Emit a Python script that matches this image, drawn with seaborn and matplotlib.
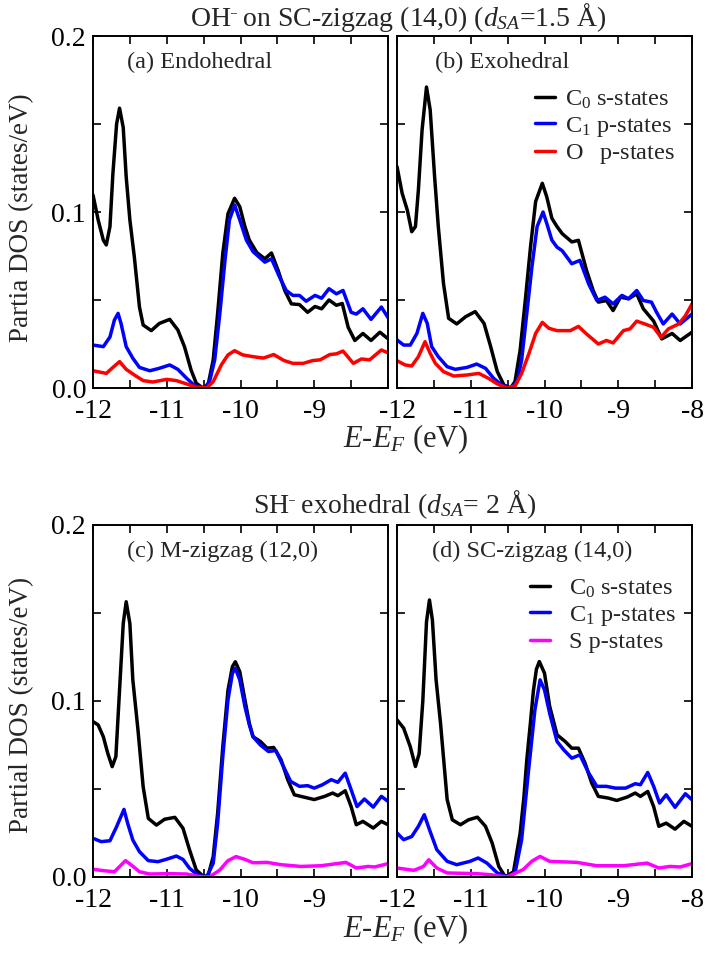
import numpy as np
import pandas as pd
import matplotlib
matplotlib.use("Agg")
import matplotlib.pyplot as plt
import seaborn as sns

# ---------------- data ----------------
# Panel (a) OH- endohedral
a_c0_x = [-12.0, -11.93, -11.86, -11.82, -11.77, -11.73, -11.68, -11.64, -11.59, -11.55, -11.50, -11.44, -11.37, -11.32, -11.21, -11.10, -10.96, -10.85, -10.76, -10.67, -10.60, -10.51, -10.44, -10.37, -10.31, -10.24, -10.17, -10.08, -10.01, -9.94, -9.88, -9.78, -9.67, -9.58, -9.49, -9.40, -9.31, -9.2, -9.09, -8.99, -8.9, -8.8, -8.70, -8.62, -8.54, -8.45, -8.34, -8.23, -8.11, -8.0]
a_c0_y = [0.1097, 0.0955, 0.084, 0.0813, 0.0917, 0.122, 0.150, 0.159, 0.148, 0.120, 0.0955, 0.0746, 0.046, 0.0358, 0.0326, 0.0367, 0.039, 0.033, 0.0235, 0.0102, 0.0027, 0.0, 0.0017, 0.016, 0.0424, 0.0765, 0.099, 0.1078, 0.103, 0.0917, 0.084, 0.077, 0.0734, 0.0767, 0.0668, 0.0554, 0.0478, 0.0474, 0.043, 0.0463, 0.045, 0.050, 0.047, 0.048, 0.0345, 0.027, 0.031, 0.027, 0.0317, 0.028]
a_c1_x = [-12.0, -11.86, -11.77, -11.71, -11.66, -11.62, -11.55, -11.46, -11.37, -11.23, -11.10, -10.96, -10.85, -10.73, -10.62, -10.49, -10.42, -10.35, -10.28, -10.21, -10.15, -10.08, -10.01, -9.92, -9.83, -9.67, -9.58, -9.47, -9.38, -9.29, -9.2, -9.11, -8.99, -8.9, -8.8, -8.70, -8.61, -8.5, -8.43, -8.34, -8.23, -8.09, -8.0]
a_c1_y = [0.0244, 0.0235, 0.029, 0.0386, 0.0424, 0.0367, 0.0235, 0.0169, 0.0117, 0.0098, 0.0112, 0.0131, 0.0106, 0.0055, 0.0013, 0.0, 0.0036, 0.016, 0.0424, 0.0727, 0.0955, 0.104, 0.0955, 0.084, 0.0775, 0.0715, 0.0734, 0.063, 0.0554, 0.0526, 0.0526, 0.0493, 0.0526, 0.051, 0.0564, 0.0535, 0.0554, 0.043, 0.042, 0.045, 0.039, 0.046, 0.040]
a_o_x = [-12.0, -11.82, -11.73, -11.64, -11.55, -11.44, -11.32, -11.19, -11.0, -10.87, -10.73, -10.6, -10.46, -10.37, -10.26, -10.17, -10.08, -9.97, -9.83, -9.69, -9.55, -9.41, -9.29, -9.15, -9.02, -8.92, -8.79, -8.70, -8.61, -8.47, -8.36, -8.25, -8.09, -8.0]
a_o_y = [0.0098, 0.0083, 0.0117, 0.015, 0.0106, 0.0074, 0.0042, 0.0034, 0.0049, 0.0042, 0.0023, 0.0004, 0.0, 0.0036, 0.0131, 0.0188, 0.0212, 0.0188, 0.0178, 0.017, 0.019, 0.0156, 0.014, 0.014, 0.0156, 0.016, 0.019, 0.0194, 0.021, 0.014, 0.0165, 0.016, 0.0216, 0.020]

# Panel (b) OH- exohedral
b_c0_x = [-12.0, -11.93, -11.86, -11.80, -11.75, -11.71, -11.66, -11.60, -11.55, -11.49, -11.44, -11.37, -11.30, -11.19, -11.07, -10.94, -10.82, -10.73, -10.64, -10.55, -10.46, -10.40, -10.33, -10.26, -10.19, -10.12, -10.03, -9.97, -9.90, -9.83, -9.76, -9.63, -9.54, -9.43, -9.34, -9.27, -9.16, -9.07, -8.97, -8.86, -8.75, -8.66, -8.52, -8.41, -8.27, -8.16, -8.0]
b_c0_y = [0.1258, 0.1106, 0.101, 0.0888, 0.0917, 0.1125, 0.1466, 0.171, 0.158, 0.120, 0.0917, 0.0595, 0.0396, 0.0364, 0.0405, 0.0434, 0.0367, 0.0235, 0.0093, 0.0017, 0.0, 0.0036, 0.0216, 0.050, 0.080, 0.106, 0.1163, 0.1087, 0.0964, 0.0917, 0.0877, 0.083, 0.0839, 0.0668, 0.0554, 0.0488, 0.0497, 0.044, 0.0516, 0.0507, 0.0535, 0.045, 0.038, 0.0279, 0.031, 0.027, 0.0317]
b_c1_x = [-12.0, -11.91, -11.82, -11.73, -11.65, -11.59, -11.53, -11.44, -11.32, -11.21, -11.05, -10.92, -10.80, -10.69, -10.58, -10.46, -10.37, -10.31, -10.24, -10.17, -10.10, -10.02, -9.97, -9.90, -9.83, -9.76, -9.63, -9.52, -9.40, -9.29, -9.18, -9.07, -8.95, -8.86, -8.75, -8.66, -8.55, -8.48, -8.39, -8.27, -8.16, -8.0]
b_c1_y = [0.0273, 0.0244, 0.0244, 0.031, 0.0424, 0.0367, 0.0235, 0.0178, 0.0121, 0.0106, 0.0117, 0.0136, 0.0112, 0.0055, 0.0017, 0.0, 0.0036, 0.0159, 0.0424, 0.069, 0.0917, 0.100, 0.0936, 0.084, 0.080, 0.078, 0.0706, 0.0725, 0.059, 0.0497, 0.0516, 0.0478, 0.0526, 0.0507, 0.0554, 0.0497, 0.0488, 0.043, 0.0364, 0.042, 0.0364, 0.042]
b_o_x = [-12.0, -11.89, -11.80, -11.71, -11.62, -11.55, -11.48, -11.37, -11.23, -11.05, -10.89, -10.76, -10.64, -10.51, -10.40, -10.31, -10.21, -10.12, -10.03, -9.94, -9.83, -9.65, -9.54, -9.43, -9.27, -9.16, -9.07, -8.93, -8.84, -8.75, -8.64, -8.52, -8.42, -8.32, -8.18, -8.09, -8.0]
b_o_y = [0.0155, 0.0131, 0.0125, 0.0178, 0.0263, 0.0197, 0.014, 0.0093, 0.0068, 0.0074, 0.0083, 0.0055, 0.0023, 0.0, 0.0011, 0.0083, 0.0197, 0.031, 0.0373, 0.0339, 0.0326, 0.0326, 0.035, 0.0307, 0.025, 0.027, 0.0256, 0.0326, 0.0336, 0.038, 0.0364, 0.0345, 0.0288, 0.0336, 0.0364, 0.041, 0.0478]

# Panel (c) SH- on M-zigzag (12,0)
c_c0_x = [-12.0, -11.93, -11.86, -11.80, -11.74, -11.69, -11.65, -11.59, -11.55, -11.50, -11.46, -11.39, -11.32, -11.25, -11.14, -11.03, -10.89, -10.78, -10.69, -10.60, -10.51, -10.44, -10.37, -10.31, -10.24, -10.17, -10.11, -10.07, -10.01, -9.94, -9.88, -9.83, -9.73, -9.64, -9.55, -9.45, -9.36, -9.27, -9.14, -9.0, -8.86, -8.75, -8.68, -8.58, -8.5, -8.43, -8.34, -8.2, -8.09, -8.0]
c_c0_y = [0.0883, 0.0864, 0.0797, 0.0703, 0.0627, 0.0684, 0.0987, 0.144, 0.1564, 0.144, 0.112, 0.0835, 0.0513, 0.0333, 0.0295, 0.0328, 0.0339, 0.0277, 0.0153, 0.004, 0.0006, 0.0006, 0.0116, 0.0362, 0.074, 0.106, 0.1195, 0.1223, 0.1167, 0.1006, 0.0873, 0.0797, 0.077, 0.0732, 0.0736, 0.0666, 0.0553, 0.0467, 0.0454, 0.044, 0.0458, 0.0477, 0.0462, 0.049, 0.040, 0.0297, 0.0316, 0.0278, 0.0316, 0.0297]
c_c1_x = [-12.0, -11.89, -11.77, -11.68, -11.58, -11.53, -11.46, -11.37, -11.25, -11.12, -11.01, -10.87, -10.78, -10.69, -10.58, -10.46, -10.37, -10.31, -10.24, -10.17, -10.11, -10.07, -10.01, -9.94, -9.88, -9.83, -9.73, -9.62, -9.52, -9.43, -9.32, -9.20, -9.09, -9.0, -8.89, -8.77, -8.68, -8.58, -8.5, -8.42, -8.32, -8.2, -8.09, -8.0]
c_c1_y = [0.022, 0.0201, 0.0206, 0.0286, 0.0384, 0.0305, 0.021, 0.0144, 0.0093, 0.0087, 0.010, 0.0119, 0.010, 0.0049, 0.0011, 0.0, 0.0078, 0.0305, 0.0684, 0.1006, 0.1157, 0.1186, 0.112, 0.0968, 0.0864, 0.0797, 0.075, 0.0713, 0.0719, 0.0638, 0.0543, 0.0515, 0.0519, 0.0505, 0.0524, 0.0553, 0.0538, 0.059, 0.0496, 0.040, 0.0443, 0.0397, 0.0458, 0.043]
c_s_x = [-12.0, -11.86, -11.71, -11.64, -11.56, -11.48, -11.37, -11.23, -10.96, -10.73, -10.55, -10.42, -10.28, -10.17, -10.06, -9.94, -9.83, -9.64, -9.45, -9.18, -8.91, -8.73, -8.57, -8.43, -8.27, -8.18, -8.0]
c_s_y = [0.0044, 0.0036, 0.003, 0.0059, 0.0093, 0.0068, 0.003, 0.0017, 0.0019, 0.0017, 0.0002, 0.0, 0.004, 0.0093, 0.0116, 0.010, 0.0081, 0.0083, 0.007, 0.006, 0.0064, 0.0074, 0.0083, 0.0051, 0.006, 0.0057, 0.0076]

# Panel (d) SH- on SC-zigzag (14,0)
d_c0_x = [-12.0, -11.91, -11.82, -11.75, -11.70, -11.65, -11.60, -11.56, -11.52, -11.47, -11.41, -11.32, -11.25, -11.14, -11.03, -10.91, -10.8, -10.71, -10.62, -10.53, -10.42, -10.33, -10.28, -10.24, -10.19, -10.15, -10.11, -10.07, -10.0, -9.93, -9.83, -9.72, -9.63, -9.54, -9.45, -9.36, -9.27, -9.13, -9.02, -8.88, -8.77, -8.70, -8.60, -8.52, -8.45, -8.35, -8.23, -8.11, -8.0]
d_c0_y = [0.0893, 0.0846, 0.074, 0.0628, 0.070, 0.100, 0.145, 0.1574, 0.146, 0.112, 0.0874, 0.044, 0.0325, 0.0297, 0.0325, 0.034, 0.0288, 0.0193, 0.006, 0.0, 0.003, 0.025, 0.045, 0.0666, 0.088, 0.106, 0.118, 0.1224, 0.1158, 0.097, 0.0808, 0.077, 0.0732, 0.0732, 0.0647, 0.0534, 0.0458, 0.0448, 0.0435, 0.0454, 0.0477, 0.0458, 0.0486, 0.040, 0.0288, 0.0306, 0.0272, 0.0316, 0.0288]
d_c1_x = [-12.0, -11.91, -11.80, -11.71, -11.63, -11.56, -11.46, -11.32, -11.19, -11.01, -10.90, -10.78, -10.64, -10.49, -10.40, -10.31, -10.22, -10.13, -10.06, -10.0, -9.93, -9.83, -9.74, -9.63, -9.52, -9.40, -9.29, -9.16, -9.04, -8.90, -8.77, -8.70, -8.60, -8.52, -8.44, -8.35, -8.23, -8.09, -8.0]
d_c1_y = [0.025, 0.0212, 0.023, 0.0288, 0.0354, 0.0269, 0.0155, 0.0089, 0.007, 0.0089, 0.0108, 0.0079, 0.0023, 0.0, 0.0023, 0.0212, 0.059, 0.095, 0.112, 0.1063, 0.093, 0.077, 0.0723, 0.0675, 0.0694, 0.059, 0.0515, 0.0515, 0.0505, 0.0505, 0.053, 0.0524, 0.0594, 0.0515, 0.042, 0.0467, 0.0396, 0.0473, 0.0439]
d_s_x = [-12.0, -11.77, -11.64, -11.57, -11.46, -11.32, -10.92, -10.73, -10.51, -10.29, -10.17, -10.06, -9.93, -9.56, -9.29, -8.93, -8.61, -8.45, -8.30, -8.16, -8.0]
d_s_y = [0.0051, 0.0038, 0.006, 0.0098, 0.0051, 0.0023, 0.0019, 0.0013, 0.0, 0.0042, 0.009, 0.0117, 0.0089, 0.0083, 0.0064, 0.0064, 0.0079, 0.0051, 0.006, 0.0057, 0.0076]

panel_labels = ["(a) Endohedral", "(b) Exohedral", "(c) M-zigzag (12,0)", "(d) SC-zigzag (14,0)"]
top_title = r"OH$^{\bar{\ }}$ on SC-zigzag (14,0) ($d_{SA}$=1.5 Å)"
bottom_title = r"SH$^{\bar{\ }}$ exohedral ($d_{SA}$= 2 Å)"
legend_top = [r"C$_0$ s-states", r"C$_1$ p-states", r"O$_{\ }$  p-states"]
legend_bottom = [r"C$_0$ s-states", r"C$_1$ p-states", r"S p-states"]
xticks = [-12, -11, -10, -9, -8]
yticks = [0.0, 0.1, 0.2]

# ---------------- style ----------------
sns.set_style("ticks")
plt.rcParams['font.family'] = ['Liberation Serif', 'DejaVu Serif']
plt.rcParams['mathtext.fontset'] = 'custom'
plt.rcParams['mathtext.rm'] = 'Liberation Serif'
plt.rcParams['mathtext.it'] = 'Liberation Serif:italic'
plt.rcParams['mathtext.bf'] = 'Liberation Serif:bold'
plt.rcParams['axes.unicode_minus'] = False

fig = plt.figure(figsize=(7.05, 9.56), dpi=100)
W, H = 705.0, 956.0
pw, ph = 295 / W, 352 / H
axs = [
    fig.add_axes([93 / W, 1 - 388 / H, pw, ph]),
    fig.add_axes([397 / W, 1 - 388 / H, pw, ph]),
    fig.add_axes([93 / W, 1 - 877 / H, pw, ph]),
    fig.add_axes([397 / W, 1 - 877 / H, pw, ph]),
]

black, blue, red, magenta = "#000000", "#0000ff", "#ff0000", "#ff00ff"
lw = 2.5

series = [
    [(a_c0_x, a_c0_y, black), (a_c1_x, a_c1_y, blue), (a_o_x, a_o_y, red)],
    [(b_c0_x, b_c0_y, black), (b_c1_x, b_c1_y, blue), (b_o_x, b_o_y, red)],
    [(c_c0_x, c_c0_y, black), (c_c1_x, c_c1_y, blue), (c_s_x, c_s_y, magenta)],
    [(d_c0_x, d_c0_y, black), (d_c1_x, d_c1_y, blue), (d_s_x, d_s_y, magenta)],
]
legends = [legend_top, legend_top, legend_bottom, legend_bottom]

for i, ax in enumerate(axs):
    for j, (xs, ys, col) in enumerate(series[i]):
        df = pd.DataFrame({"E": xs, "DOS": ys})
        sns.lineplot(data=df, x="E", y="DOS", ax=ax, color=col, lw=lw,
                     label=legends[i][j], legend=False, estimator=None)
    for ln in ax.get_lines():
        ln.set_solid_joinstyle("round")
        ln.set_solid_capstyle("round")
    ax.set_xlim(-12, -8)
    ax.set_ylim(0, 0.2)
    ax.set_xlabel("")
    ax.set_ylabel("")
    ax.set_xticks(xticks)
    ax.set_xticks(np.arange(-12, -7.9, 0.5), minor=True)
    ax.set_yticks(yticks)
    ax.set_yticks([0.05, 0.15], minor=True)
    if i % 2 == 0:
        ax.set_xticklabels([str(t) for t in xticks[:-1]] + [""])
        ax.set_yticklabels([f"{t:.1f}" for t in yticks])
    else:
        ax.set_xticklabels([str(t) for t in xticks])
        ax.set_yticklabels([])
    ax.tick_params(which="both", direction="in", top=True, right=True,
                   length=6, width=1.2, labelsize=20, colors="black")
    ax.tick_params(axis="x", which="both", pad=8)
    ax.tick_params(axis="y", which="both", pad=5)
    for sp in ax.spines.values():
        sp.set_linewidth(1.4)
        sp.set_color("black")
    lx = [0.115, 0.129, 0.115, 0.119][i]
    ax.text(lx, 0.925, panel_labels[i], transform=ax.transAxes,
            fontsize=17.5, ha="left", va="center")

# legends
for i, (xa, ya), pad in [(1, (0.468, 0.85), 0.4), (3, (0.451, 0.85), 0.8)]:
    h, l = axs[i].get_legend_handles_labels()
    axs[i].legend(h, l, loc="upper left", bbox_to_anchor=(xa, ya), frameon=False,
                  fontsize=17.5, handlelength=0.82, handletextpad=pad,
                  labelspacing=0.15, borderpad=0, borderaxespad=0)

# titles and labels
fig.text(398 / W, 1 - 18 / H, top_title, ha="center", va="center", fontsize=20)
fig.text(395 / W, 1 - 505 / H, bottom_title, ha="center", va="center", fontsize=20)
fig.text(406 / W, 1 - 439 / H, r"$E$-$E_F$ (eV)", ha="center", va="center", fontsize=22)
fig.text(406 / W, 1 - 929 / H, r"$E$-$E_F$ (eV)", ha="center", va="center", fontsize=22)
fig.text(22 / W, 1 - 218 / H, "Partia DOS (states/eV)", rotation=90,
         ha="center", va="center", fontsize=19.5)
fig.text(22 / W, 1 - 705 / H, "Partial DOS (states/eV)", rotation=90,
         ha="center", va="center", fontsize=19.5)

fig.savefig("out.png", dpi=100)
